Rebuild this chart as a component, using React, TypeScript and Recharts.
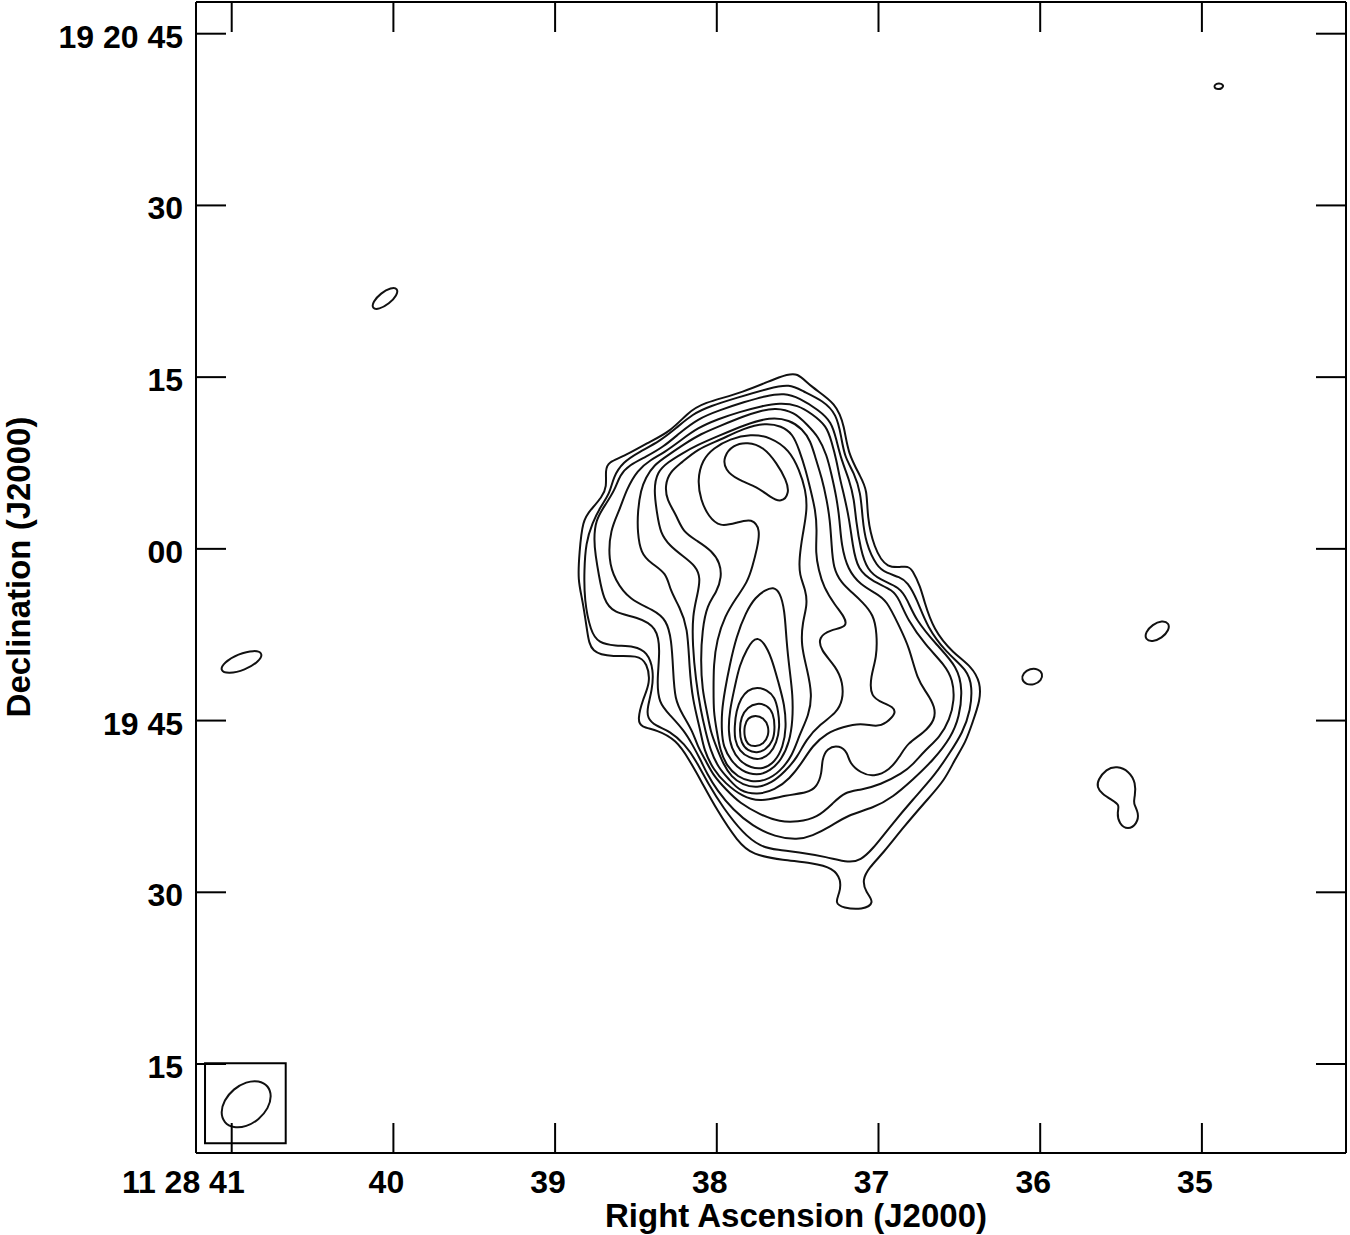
import React from 'react';
import { ComposedChart, Line, XAxis, YAxis, ReferenceArea } from 'recharts';

type Pt = [number, number]; // [RA seconds (11h28m..s), Dec offset arcsec from +19 20 00]

const raTicks = [41, 40, 39, 38, 37, 36, 35];
const raLabels = ['11 28 41', '40', '39', '38', '37', '36', '35'];
const decTicks = [45, 30, 15, 0, -15, -30, -45];
const decLabels = ['19 20 45', '30', '15', '00', '19 45', '30', '15'];

// main source, outermost contour first
const contour1: Pt[] = [
  [37.50, 15.45], [37.42, 14.14], [37.26, 12.74], [37.21, 10.65], [37.19, 8.38], [37.11, 6.28], [37.07, 5.15],
  [37.07, 2.79], [37.03, 0.17], [36.95, -1.84], [36.82, -1.41], [36.79, -1.84], [36.74, -3.33], [36.72, -4.46],
  [36.66, -7.08], [36.54, -9.09], [36.42, -10.32], [36.37, -11.71], [36.37, -13.20], [36.42, -15.21], [36.46, -16.87],
  [36.53, -18.44], [36.59, -20.19], [36.70, -21.93], [36.85, -24.38], [36.97, -26.56], [37.06, -27.87], [37.10, -28.92],
  [37.08, -29.97], [37.02, -30.93], [37.10, -31.54], [37.22, -31.37], [37.27, -30.93], [37.24, -30.06], [37.23, -28.92],
  [37.28, -27.87], [37.41, -27.44], [37.59, -27.18], [37.78, -26.74], [37.87, -25.60], [38.00, -22.81], [38.10, -20.19],
  [38.17, -18.44], [38.25, -16.69], [38.37, -15.82], [38.47, -15.56], [38.49, -14.95], [38.46, -13.20], [38.41, -11.71],
  [38.43, -9.97], [38.49, -9.27], [38.64, -9.44], [38.78, -9.09], [38.80, -7.35], [38.83, -4.46], [38.86, -2.72],
  [38.85, -0.36], [38.83, 2.52], [38.78, 3.40], [38.71, 4.53], [38.68, 5.41], [38.69, 6.89], [38.67, 7.59],
  [38.58, 8.03], [38.43, 9.25], [38.29, 10.21], [38.18, 11.87], [38.09, 12.75], [37.84, 13.62], [37.59, 15.19],
];

const contour2: Pt[] = [
  [37.55, 14.40], [37.47, 13.79], [37.34, 12.92], [37.26, 11.78], [37.23, 9.78], [37.21, 8.03], [37.15, 6.63],
  [37.11, 4.88], [37.10, 2.79], [37.08, 0.52], [37.01, -1.58], [36.95, -2.11], [36.87, -2.46], [36.82, -2.89],
  [36.76, -4.46], [36.70, -6.82], [36.58, -9.09], [36.45, -10.58], [36.42, -12.06], [36.43, -14.07], [36.48, -16.08],
  [36.56, -17.83], [36.65, -19.75], [36.79, -21.93], [36.93, -24.29], [37.04, -26.30], [37.11, -27.18], [37.18, -27.44],
  [37.32, -26.91], [37.50, -26.48], [37.62, -26.30], [37.73, -26.04], [37.84, -24.82], [37.96, -22.63], [38.05, -20.62],
  [38.13, -18.44], [38.20, -17.04], [38.29, -15.91], [38.38, -15.47], [38.43, -14.77], [38.43, -13.90], [38.40, -12.33],
  [38.39, -10.58], [38.43, -9.01], [38.51, -8.48], [38.63, -8.48], [38.73, -8.22], [38.78, -7.26], [38.82, -4.46],
  [38.82, -1.84], [38.81, 0.52], [38.77, 2.26], [38.72, 3.66], [38.66, 4.88], [38.64, 6.28], [38.58, 7.59],
  [38.48, 8.46], [38.35, 9.43], [38.25, 10.56], [38.15, 11.78], [38.04, 12.48], [37.88, 13.18], [37.67, 14.06],
];

const contour3: Pt[] = [
  [37.58, 13.62], [37.49, 13.18], [37.37, 12.13], [37.29, 11.09], [37.26, 9.51], [37.23, 7.77], [37.18, 6.02],
  [37.15, 4.27], [37.14, 2.52], [37.11, -0.10], [37.07, -1.84], [36.99, -2.72], [36.87, -3.33], [36.82, -4.46],
  [36.77, -6.21], [36.64, -8.40], [36.51, -10.32], [36.48, -12.33], [36.50, -14.68], [36.55, -16.43], [36.66, -18.44],
  [36.79, -20.19], [36.91, -21.67], [37.03, -22.63], [37.19, -23.24], [37.30, -24.29], [37.41, -25.08], [37.50, -25.43],
  [37.64, -25.17], [37.78, -24.21], [37.90, -22.81], [38.00, -21.06], [38.06, -19.66], [38.10, -18.44], [38.15, -17.13],
  [38.20, -15.91], [38.29, -14.51], [38.36, -13.46], [38.37, -11.45], [38.35, -8.83], [38.37, -6.82], [38.49, -5.95],
  [38.64, -5.60], [38.70, -4.46], [38.73, -2.28], [38.75, -0.53], [38.76, 0.78], [38.75, 2.52], [38.69, 3.84],
  [38.63, 5.15], [38.60, 6.46], [38.54, 7.33], [38.44, 8.03], [38.33, 8.90], [38.23, 10.12], [38.12, 11.35],
  [37.98, 12.13], [37.83, 12.83], [37.70, 13.36],
];

const contour4: Pt[] = [
  [37.61, 12.75], [37.50, 12.57], [37.41, 11.78], [37.32, 10.74], [37.29, 9.34], [37.26, 7.77], [37.24, 6.19],
  [37.21, 4.53], [37.18, 2.52], [37.16, 0.34], [37.13, -1.84], [37.03, -2.89], [36.91, -3.59], [36.87, -4.46],
  [36.82, -6.21], [36.71, -8.40], [36.59, -10.14], [36.54, -11.45], [36.53, -13.20], [36.56, -14.95], [36.62, -16.43],
  [36.71, -17.57], [36.79, -18.88], [36.85, -19.58], [36.99, -20.62], [37.11, -21.06], [37.21, -21.24], [37.28, -22.20],
  [37.38, -23.51], [37.50, -23.86], [37.61, -23.86], [37.73, -23.24], [37.86, -22.20], [37.94, -21.06], [38.02, -19.84],
  [38.07, -18.44], [38.12, -17.22], [38.15, -15.91], [38.21, -14.51], [38.26, -13.20], [38.27, -10.58], [38.28, -7.96],
  [38.31, -6.21], [38.39, -5.34], [38.54, -4.46], [38.63, -2.72], [38.67, -0.97], [38.66, 1.65], [38.60, 3.40],
  [38.56, 5.15], [38.49, 6.89], [38.41, 7.77], [38.32, 8.46], [38.22, 9.51], [38.12, 10.56], [37.99, 11.35],
  [37.86, 11.96], [37.72, 12.48],
];

const contour5: Pt[] = [
  [37.64, 12.31], [37.52, 11.96], [37.44, 10.82], [37.37, 9.78], [37.32, 8.20], [37.29, 6.46], [37.26, 4.53],
  [37.24, 2.52], [37.23, 0.34], [37.19, -1.84], [37.11, -3.15], [37.02, -3.85], [36.95, -4.46], [36.87, -6.82],
  [36.81, -8.57], [36.76, -11.45], [36.70, -12.59], [36.65, -13.81], [36.65, -14.95], [36.72, -16.08], [36.82, -16.96],
  [36.87, -18.18], [36.93, -19.31], [37.03, -19.93], [37.11, -19.58], [37.18, -18.70], [37.19, -17.83], [37.24, -17.13],
  [37.32, -17.39], [37.35, -18.44], [37.35, -19.58], [37.38, -20.80], [37.44, -21.32], [37.57, -21.50], [37.73, -22.11],
  [37.84, -21.67], [37.95, -20.45], [38.02, -19.31], [38.08, -17.57], [38.10, -15.91], [38.15, -13.20], [38.17, -10.32],
  [38.18, -6.82], [38.23, -5.08], [38.29, -3.59], [38.31, -2.11], [38.41, -1.23], [38.47, -0.36], [38.49, 1.39],
  [38.49, 3.22], [38.47, 5.15], [38.44, 6.19], [38.39, 7.33], [38.30, 8.20], [38.20, 9.16], [38.10, 10.04],
  [37.98, 10.74], [37.83, 11.61], [37.73, 12.05],
];

const contour6: Pt[] = [
  [37.67, 11.52], [37.55, 11.26], [37.47, 10.47], [37.42, 9.43], [37.39, 7.94], [37.35, 6.19], [37.32, 4.27],
  [37.30, 2.52], [37.29, 0.34], [37.28, -1.67], [37.23, -2.98], [37.16, -3.85], [37.10, -4.64], [37.03, -5.77],
  [37.01, -7.35], [37.01, -9.44], [37.05, -11.19], [37.05, -12.94], [36.97, -13.46], [36.91, -13.81], [36.89, -14.34],
  [36.95, -15.21], [37.01, -15.56], [37.11, -15.21], [37.22, -15.56], [37.32, -16.08], [37.41, -17.22], [37.47, -18.62],
  [37.55, -20.10], [37.64, -21.06], [37.75, -21.50], [37.86, -21.15], [37.92, -20.19], [37.99, -19.14], [38.04, -17.57],
  [38.07, -15.91], [38.10, -14.07], [38.13, -11.45], [38.15, -8.40], [38.15, -5.77], [38.12, -4.03], [38.10, -2.54],
  [38.13, -1.49], [38.21, -0.62], [38.29, 0.25], [38.35, 1.39], [38.37, 3.14], [38.39, 5.15], [38.37, 6.72],
  [38.30, 7.59], [38.22, 8.29], [38.12, 9.08], [37.99, 9.86], [37.83, 10.82],
];

const contour7: Pt[] = [
  [37.70, 11.00], [37.60, 10.74], [37.53, 10.04], [37.49, 8.64], [37.45, 6.89], [37.42, 5.15], [37.39, 3.40],
  [37.38, 1.65], [37.39, -0.36], [37.37, -1.84], [37.34, -3.33], [37.27, -4.90], [37.21, -5.95], [37.19, -6.82],
  [37.30, -7.08], [37.37, -7.70], [37.36, -8.83], [37.26, -10.32], [37.22, -11.71], [37.22, -13.20], [37.26, -14.34],
  [37.36, -15.30], [37.45, -16.69], [37.50, -18.18], [37.58, -19.49], [37.66, -20.45], [37.75, -20.89], [37.84, -20.62],
  [37.91, -19.93], [37.96, -18.79], [38.00, -17.39], [38.04, -15.91], [38.06, -14.25], [38.09, -12.33], [38.10, -9.71],
  [38.09, -7.08], [38.06, -4.90], [38.00, -3.77], [37.97, -2.46], [37.98, -1.23], [38.03, -0.18], [38.12, 0.69],
  [38.21, 1.48], [38.25, 2.96], [38.31, 4.27], [38.32, 5.58], [38.29, 6.72], [38.22, 7.50], [38.12, 8.73],
  [37.98, 9.51], [37.83, 10.56],
];

const contour8: Pt[] = [
  [38.02, 8.81], [37.92, 9.60], [37.79, 10.04], [37.67, 9.78], [37.55, 8.64], [37.49, 6.89], [37.45, 5.15],
  [37.44, 3.40], [37.47, 1.21], [37.49, -0.80], [37.49, -2.28], [37.45, -3.59], [37.44, -4.90], [37.47, -6.39],
  [37.48, -8.40], [37.44, -10.58], [37.41, -12.76], [37.43, -14.51], [37.49, -16.26], [37.53, -18.00], [37.61, -19.49],
  [37.70, -20.27], [37.79, -20.36], [37.87, -19.93], [37.94, -18.96], [37.98, -17.57], [38.00, -15.91], [38.02, -14.25],
  [38.02, -12.33], [38.02, -10.14], [38.00, -7.96], [37.95, -5.86], [37.88, -4.29], [37.81, -2.89], [37.78, -1.58],
  [37.75, 0.08], [37.73, 1.65], [37.78, 2.70], [37.88, 2.26], [37.98, 1.91], [38.05, 2.79], [38.10, 4.27],
  [38.12, 6.02], [38.09, 7.77],
];

const contour9: Pt[] = [
  [37.65, -3.33], [37.61, -3.77], [37.58, -5.34], [37.57, -7.96], [37.55, -10.58], [37.53, -12.76], [37.53, -14.95],
  [37.55, -16.87], [37.60, -18.44], [37.67, -19.40], [37.75, -19.84], [37.85, -19.40], [37.91, -18.53], [37.96, -17.30],
  [37.97, -15.91], [37.97, -14.25], [37.95, -12.33], [37.92, -10.14], [37.88, -7.70], [37.82, -5.51], [37.76, -4.20],
  [37.70, -3.59],
];

const contour10: Pt[] = [
  [37.75, -7.78], [37.71, -8.13], [37.66, -9.53], [37.62, -11.63], [37.58, -13.64], [37.57, -15.65], [37.59, -17.30],
  [37.64, -18.62], [37.71, -19.23], [37.79, -19.14], [37.86, -18.53], [37.91, -17.48], [37.93, -15.91], [37.92, -14.07],
  [37.89, -12.15], [37.86, -10.14], [37.81, -8.66], [37.78, -8.05],
];

const contour11: Pt[] = [
  [37.75, -12.06], [37.69, -12.33], [37.64, -12.94], [37.62, -14.16], [37.61, -15.56], [37.63, -16.96], [37.67, -17.92],
  [37.73, -18.44], [37.80, -18.27], [37.86, -17.65], [37.89, -16.69], [37.89, -15.47], [37.88, -14.16], [37.85, -13.02],
  [37.81, -12.33],
];

const contour12: Pt[] = [
  [37.75, -13.46], [37.69, -13.64], [37.65, -14.34], [37.64, -15.56], [37.65, -16.78], [37.70, -17.57], [37.75, -17.83],
  [37.81, -17.65], [37.85, -16.96], [37.86, -15.82], [37.85, -14.68], [37.81, -13.81],
];

const contour13: Pt[] = [
  [37.76, -14.51], [37.71, -14.77], [37.68, -15.47], [37.68, -16.34], [37.71, -17.04], [37.76, -17.30], [37.81, -17.13],
  [37.83, -16.43], [37.83, -15.47], [37.81, -14.77],
];

const northPeak: Pt[] = [
  [37.96, 8.03], [37.90, 9.08], [37.81, 9.34], [37.71, 8.90], [37.63, 7.50], [37.57, 6.02], [37.55, 4.88],
  [37.60, 4.01], [37.67, 4.53], [37.75, 5.41], [37.87, 6.02], [37.95, 6.89],
];

// isolated faint blobs
const blobNW: Pt[] = [
  [39.972, 22.76], [39.977, 22.17], [40.026, 21.40], [40.090, 20.91], [40.132, 20.98], [40.127, 21.57], [40.078, 22.34], [40.014, 22.83],
];
const blobW: Pt[] = [
  [40.805, -9.11], [40.830, -9.84], [40.919, -10.60], [41.020, -10.93], [41.074, -10.65], [41.049, -9.93], [40.960, -9.17], [40.858, -8.83],
];
const blobNE: Pt[] = [
  [34.863, 40.52], [34.876, 40.21], [34.900, 40.13], [34.925, 40.26], [34.922, 40.56], [34.894, 40.69],
];
const blobE1: Pt[] = [
  [35.983, -10.91], [35.993, -11.50], [36.036, -11.88], [36.087, -11.86], [36.116, -11.42], [36.106, -10.84], [36.063, -10.45], [36.012, -10.48],
];
const blobE2: Pt[] = [
  [35.203, -6.47], [35.203, -7.10], [35.247, -7.79], [35.307, -8.13], [35.350, -7.92], [35.349, -7.29], [35.306, -6.60], [35.246, -6.26],
];
const blobE3: Pt[] = [
  [35.643, -20.19], [35.593, -19.23], [35.525, -18.97], [35.451, -19.40], [35.408, -20.45], [35.414, -21.68], [35.426, -22.20],
  [35.389, -23.07], [35.401, -24.03], [35.457, -24.56], [35.513, -24.03], [35.525, -22.99], [35.507, -22.37], [35.556, -21.94],
  [35.618, -21.41], [35.649, -20.80],
];

// restoring beam and its box
const beam: Pt[] = [
  [40.773, -46.89], [40.752, -47.79], [40.773, -48.87], [40.831, -49.86], [40.910, -50.49], [40.989, -50.60],
  [41.048, -50.14], [41.069, -49.25], [41.048, -48.17], [40.990, -47.18], [40.910, -46.54], [40.832, -46.44],
];
const beamBox = { ra1: 41.165, ra2: 40.666, dec1: -44.94, dec2: -51.93 };

const contours: Pt[][] = [
  contour1, contour2, contour3, contour4, contour5, contour6, contour7, contour8, contour9,
  contour10, contour11, contour12, contour13, northPeak,
  blobNW, blobW, blobNE, blobE1, blobE2, blobE3, beam,
];

const RA_DOMAIN: [number, number] = [34.1088, 41.2208];
const DEC_DOMAIN: [number, number] = [-52.773, 47.769];

const font = '"Liberation Sans", Arial, Helvetica, sans-serif';
const labelStyle = { fontFamily: font, fontWeight: 700, fontSize: 32, fill: '#000' };
const axisStroke = { stroke: '#000', strokeWidth: 2 };
const inTick = { stroke: '#000', strokeWidth: 2 };

const XTick = (props: any) => {
  const { x, y, payload } = props;
  const i = raTicks.indexOf(payload.value);
  const first = i === 0;
  return (
    <text x={first ? x + 13 : x - 7} y={y + 40} textAnchor={first ? 'end' : 'middle'} style={labelStyle}>
      {raLabels[i]}
    </text>
  );
};

const YTick = (props: any) => {
  const { x, y, payload } = props;
  const i = decTicks.indexOf(payload.value);
  return (
    <text x={x - 13} y={y + 14} textAnchor="end" style={labelStyle}>
      {decLabels[i]}
    </text>
  );
};

const NoTick = () => <g />;

const XTitle = (props: any) => {
  const vb = props.viewBox || { x: 196, y: 1153, width: 1150 };
  return (
    <text x={vb.x + vb.width / 2 + 25} y={vb.y + 74} textAnchor="middle" style={{ ...labelStyle, fontSize: 33 }}>
      Right Ascension (J2000)
    </text>
  );
};

const YTitle = () => (
  <text x={30} y={567} transform="rotate(-90, 30, 567)" textAnchor="middle" style={{ ...labelStyle, fontSize: 33 }}>
    Declination (J2000)
  </text>
);

export default function App() {
  return (
    <div style={{ position: 'absolute', left: 0, top: 0, width: 1350, height: 1235, background: '#fff' }}>
      <ComposedChart width={1350} height={1235} margin={{ top: 2, right: 4, bottom: 0, left: 0 }}>
        <XAxis
          xAxisId="x" dataKey="ra" type="number" domain={RA_DOMAIN} reversed allowDataOverflow
          ticks={raTicks} interval={0} height={82} tickLine={false} tickSize={0} tickMargin={0}
          axisLine={axisStroke} tick={<XTick />} label={XTitle}
        />
        <XAxis
          xAxisId="xTop" dataKey="ra" type="number" orientation="top" mirror domain={RA_DOMAIN} reversed
          allowDataOverflow ticks={raTicks} interval={0} tickSize={30} tickLine={inTick} axisLine={axisStroke} tick={NoTick}
        />
        <XAxis
          xAxisId="xBottom" dataKey="ra" type="number" orientation="bottom" mirror domain={RA_DOMAIN} reversed
          allowDataOverflow ticks={raTicks} interval={0} tickSize={30} tickLine={inTick} axisLine={axisStroke} tick={NoTick}
        />
        <YAxis
          yAxisId="y" dataKey="dec" type="number" domain={DEC_DOMAIN} allowDataOverflow ticks={decTicks} interval={0}
          width={196} tickLine={false} tickSize={0} tickMargin={0} axisLine={axisStroke} tick={<YTick />} label={YTitle}
        />
        <YAxis
          yAxisId="yLeft" type="number" orientation="left" mirror domain={DEC_DOMAIN} allowDataOverflow ticks={decTicks}
          interval={0} tickSize={30} tickLine={inTick} axisLine={axisStroke} tick={NoTick}
        />
        <YAxis
          yAxisId="yRight" type="number" orientation="right" mirror domain={DEC_DOMAIN} allowDataOverflow ticks={decTicks}
          interval={0} tickSize={30} tickLine={inTick} axisLine={axisStroke} tick={NoTick}
        />
        <ReferenceArea
          xAxisId="x" yAxisId="y" x1={beamBox.ra1} x2={beamBox.ra2} y1={beamBox.dec1} y2={beamBox.dec2}
          fill="none" fillOpacity={0} stroke="#000" strokeWidth={2} ifOverflow="visible"
        />
        {contours.map((c, i) => (
          <Line
            key={i}
            xAxisId="x"
            yAxisId="y"
            data={c.map(([ra, dec]) => ({ ra, dec }))}
            dataKey="dec"
            type="basisClosed"
            stroke="#111"
            strokeWidth={2}
            dot={false}
            activeDot={false}
            isAnimationActive={false}
            legendType="none"
          />
        ))}
      </ComposedChart>
    </div>
  );
}
